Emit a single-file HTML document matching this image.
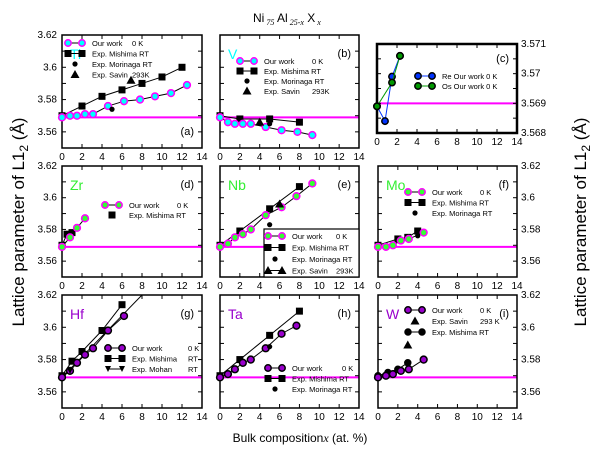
<!DOCTYPE html>
<html><head><meta charset="utf-8"><style>
body{margin:0;background:#fff;}
svg{display:block;font-family:"Liberation Sans",sans-serif;}
</style></head><body>
<svg id="c" width="600" height="454" viewBox="0 0 600 454">
<text x="253" y="22" font-size="12">Ni<tspan font-size="8" dy="3" font-style="italic" font-family="Liberation Serif"> 75</tspan><tspan dy="-3"> Al</tspan><tspan font-size="8" dy="3" font-style="italic" font-family="Liberation Serif"> 25-x</tspan><tspan dy="-3"> X</tspan><tspan font-size="8" dy="3" font-style="italic" font-family="Liberation Serif"> x</tspan></text>
<text transform="translate(24,222) rotate(-90)" text-anchor="middle" font-size="17">Lattice parameter of L1<tspan font-size="12" dy="4">2</tspan><tspan dy="-4"> (Å)</tspan></text>
<text transform="translate(586,222) rotate(-90)" text-anchor="middle" font-size="17">Lattice parameter of L1<tspan font-size="12" dy="4">2</tspan><tspan dy="-4"> (Å)</tspan></text>
<text x="300" y="442" text-anchor="middle" font-size="12">Bulk composition<tspan font-style="italic" font-family="Liberation Serif">x</tspan> (at. %)</text>
</svg>
<script>
// Data arrays
const xTicks=[0,2,4,6,8,10,12,14];
const yTicksMain=[3.56,3.58,3.6,3.62];
const yTicksC=[3.568,3.569,3.57,3.571];
const tiOurX=[0,0.8,1.5,2.3,3.1,4.6,6.2,7.8,9.3,10.9,12.5];
const tiOurY=[3.569,3.570,3.570,3.571,3.571,3.576,3.579,3.580,3.582,3.584,3.589];
const tiMisX=[0,2,4,6,8,10,12];
const tiMisY=[3.570,3.576,3.582,3.586,3.590,3.594,3.600];
const tiMorX=[5];const tiMorY=[3.574];
const tiSavX=[6.9];const tiSavY=[3.592];
const vOurX=[0,0.8,1.5,2.3,3.1,4.6,6.2,7.8,9.3];
const vOurY=[3.569,3.566,3.565,3.565,3.565,3.563,3.561,3.560,3.558];
const vMisX=[0,2,5,8];const vMisY=[3.570,3.568,3.568,3.566];
const vMorX=[5];const vMorY=[3.565];
const vSavX=[4];const vSavY=[3.566];
const reX=[0,0.8,1.5,2.3];const reY=[3.5689,3.5684,3.5699,3.5706];
const osX=[0,1.5,2.3];const osY=[3.5689,3.5697,3.5706];
const zrOurX=[0,0.8,1.5,2.3];const zrOurY=[3.569,3.575,3.581,3.587];
const zrMisX=[0,0.5,1];const zrMisY=[3.570,3.577,3.578];
const nbOurX=[0,0.8,1.5,2.3,3.1,4.6,6.2,7.7,9.3];
const nbOurY=[3.569,3.571,3.575,3.577,3.580,3.589,3.594,3.601,3.609];
const nbMisX=[0,2,5,8];const nbMisY=[3.570,3.579,3.593,3.607];
const nbMorX=[5];const nbMorY=[3.583];
const nbSavX=[6];const nbSavY=[3.596];
const moOurX=[0,0.8,1.5,2.3,3.1,4.6];const moOurY=[3.569,3.569,3.570,3.573,3.574,3.578];
const moMisX=[0,2,3,4];const moMisY=[3.570,3.574,3.575,3.579];
const moMorX=[4];const moMorY=[3.576];
const hfOurX=[0,0.8,1.5,2.3,3.1,4.6,6.2];const hfOurY=[3.569,3.573,3.578,3.583,3.587,3.598,3.607];
const hfFitX=[0,8];const hfFitY=[3.569,3.620];
const hfMisX=[0,1,2,4,6];const hfMisY=[3.570,3.579,3.585,3.598,3.614];
const hfMohX=[0.8];const hfMohY=[3.573];
const taOurX=[0,0.8,1.5,2.3,3.1,4.6,6.2,7.7];const taOurY=[3.569,3.571,3.574,3.578,3.580,3.587,3.596,3.601];
const taMisX=[0,2,5,8];const taMisY=[3.570,3.580,3.595,3.610];
const taMorX=[5];const taMorY=[3.588];
const wOurX=[0,0.8,1.5,2.3,3.1,4.6];const wOurY=[3.569,3.570,3.571,3.573,3.574,3.580];
const wSavX=[3];const wSavY=[3.589];
const wMisX=[0,1,2,3];const wMisY=[3.570,3.572,3.574,3.578];

const svg=document.getElementById('c');
const NS='http://www.w3.org/2000/svg';
function mk(tag,at,parent){const e=document.createElementNS(NS,tag);for(const k in at)e.setAttribute(k,at[k]);(parent||svg).appendChild(e);return e;}
function txt(x,y,s,size,at,parent){const t=mk('text',Object.assign({x:x,y:y,'font-size':size},at||{}),parent);t.textContent=s;return t;}

function marker(g,kind,x,y,fill,stroke,r){
  let e=null;
  if(kind==='circle'){e=mk('circle',{cx:x,cy:y,r:r||3.4,fill:fill,stroke:stroke,'stroke-width':1.5},g);}
  else if(kind==='square'){e=mk('rect',{x:x-3.5,y:y-3.5,width:7,height:7,fill:'#000'},g);}
  else if(kind==='dot'){e=mk('circle',{cx:x,cy:y,r:2.6,fill:'#000'},g);}
  else if(kind==='tri'){e=mk('path',{d:`M${x},${y-4.5}L${x+4.5},${y+3.5}L${x-4.5},${y+3.5}Z`,fill:'#000'},g);}
  else if(kind==='tridown'){e=mk('path',{d:`M${x-3},${y-3}L${x+3},${y-3}L${x},${y+3}Z`,fill:'#000'},g);}
  return e;
}

function panel(p){
  const g=mk('g',{});
  
  
  const X=v=>p.x0+(v/14)*(p.x1-p.x0);
  const Y=v=>p.yb-(v-p.ymin)/(p.ymax-p.ymin)*(p.yb-p.yt);
  const ref=mk('line',{x1:p.x0,x2:p.x1,y1:Y(3.569),y2:Y(3.569),stroke:'#ff00ff','stroke-width':2},g);
  
  
  const fr=mk('rect',{x:p.x0,y:p.yt,width:p.x1-p.x0,height:p.yb-p.yt,fill:'none',stroke:'#000','stroke-width':p.fw||1.5},g);
  
  
  xTicks.forEach(t=>{
    mk('line',{x1:X(t),x2:X(t),y1:p.yt,y2:p.yt+4,stroke:'#000'},g);
    mk('line',{x1:X(t),x2:X(t),y1:p.yb,y2:p.yb-4,stroke:'#000'},g);
    const l=txt(X(t),p.yb+12,String(t),10,{'text-anchor':'middle'},g);
    
    
  });
  const yt=p.yticks;
  const half=(yt[1]-yt[0])/2;
  for(let v=p.ymin;v<=p.ymax+1e-9;v+=half){
    mk('line',{x1:p.x0,x2:p.x0+4,y1:Y(v),y2:Y(v),stroke:'#000'},g);
    mk('line',{x1:p.x1,x2:p.x1-4,y1:Y(v),y2:Y(v),stroke:'#000'},g);
  }
  if(p.ylab){
    yt.forEach(v=>{
      const l=p.ylab==='left'?txt(p.x0-5,Y(v)+3,String(v),10,{'text-anchor':'end'},g):txt(p.x1+4,Y(v)+3,String(v),10,{},g);
      
      
    });
  }
  const cid='clip-'+p.name;
  const cp=mk('clipPath',{id:cid},g);mk('rect',{x:p.x0-5,y:p.yt,width:p.x1-p.x0+5,height:p.yb-p.yt},cp);
  const dg=mk('g',{'clip-path':`url(#${cid})`},g);
  p.series.forEach(s=>{
    if(s.line){
      const pl=mk('polyline',{points:s.xs.map((x,i)=>X(x)+','+Y(s.ys[i])).join(' '),fill:'none',stroke:s.lc||'#000','stroke-width':1},dg);
      
      
    }
    s.xs.forEach((x,i)=>{
      const m=marker(dg,s.kind,X(x),Y(s.ys[i]),s.fill,s.stroke,s.r);
      if(m){
        
        
      }
    });
  });
  if(p.elem){const e=txt(p.x0+8,p.yt+24,p.elem,14,{fill:p.elemColor},g);}
  const tg=txt(p.x1-8,p.tagY||(p.yt+22),p.tag,11,{'text-anchor':'end'},g);
  
  
  if(p.legend){
    const lg=mk('g',{},g);
    
    
    if(p.legend.box) mk('rect',Object.assign({fill:'#fff',stroke:'#000','stroke-width':1.2},p.legend.box),lg);
    p.legend.items.forEach((it,i)=>{
      const y=p.legend.y+i*p.legend.dy;const x=p.legend.x;
      const eg=mk('g',{},lg);
      
      
      if(it.line) mk('line',{x1:x,x2:x+14,y1:y,y2:y,stroke:it.lc||'#000'},eg);
      if(it.line){marker(eg,it.kind,x,y,it.fill,it.stroke,it.r);marker(eg,it.kind,x+14,y,it.fill,it.stroke,it.r);}
      else marker(eg,it.kind,x+7,y,it.fill,it.stroke,it.r);
      txt(x+24,y+3,it.label,7.5,{},eg);
      txt(x+24+p.legend.tx,y+3,it.temp,7.5,{},eg);
    });
  }
}
const OUR=(id,xs,ys,fill,stroke)=>({id:id,xs:xs,ys:ys,kind:'circle',fill:fill,stroke:stroke,line:true});
const MIS=(id,xs,ys)=>({id:id,xs:xs,ys:ys,kind:'square',line:true});
const PT=(id,xs,ys,k,line)=>({id:id,xs:xs,ys:ys,kind:k,line:!!line});
const rowTop={yt:35,yb:148},rowMid={yt:166,yb:277},rowBot={yt:295,yb:408};
const main={ymin:3.55,ymax:3.62,yticks:yTicksMain};
const L=(kind,fill,stroke,line,label,temp)=>({kind,fill,stroke,line,label,temp,r:3.2});
const c1='#00ffff',mg='#ff00ff',gr='#33ff33',pu='#9900cc';

panel(Object.assign({name:'a-ti',x0:62,x1:202,ylab:'left',elem:'Ti',elemColor:'#00ffff',tag:'(a)',tagY:135,
 series:[MIS('ti-mishima',tiMisX,tiMisY),OUR('ti-our-work',tiOurX,tiOurY,c1,mg),PT('ti-morinaga',tiMorX,tiMorY,'dot'),PT('ti-savin',tiSavX,tiSavY,'tri')],
 legend:{x:68,y:43,dy:10.5,tx:40,items:[L('circle',c1,mg,true,'Our work','0    K'),L('square',0,0,true,'Exp. Mishima  RT',''),L('dot',0,0,false,'Exp. Morinaga  RT',''),L('tri',0,0,false,'Exp. Savin','     293K')]}},rowTop,main));
panel(Object.assign({name:'b-v',x0:220,x1:359,elem:'V',elemColor:'#00ffff',tag:'(b)',
 series:[MIS('v-mishima',vMisX,vMisY),OUR('v-our-work',vOurX,vOurY,c1,mg),PT('v-morinaga',vMorX,vMorY,'dot'),PT('v-savin',vSavX,vSavY,'tri')],
 legend:{x:240,y:61,dy:10,tx:48,items:[L('circle',c1,mg,true,'Our work','0 K'),L('square',0,0,true,'Exp. Mishima  RT',''),L('dot',0,0,false,'Exp. Morinaga  RT',''),L('tri',0,0,false,'Exp. Savin','        293K')]}},rowTop,main));
panel({name:'c-re-os',x0:377,x1:517,yt:44,yb:133,ymin:3.568,ymax:3.571,yticks:yTicksC,ylab:'right',tag:'(c)',tagY:62,fw:2.5,
 series:[{id:'re-our-work',xs:reX,ys:reY,kind:'circle',fill:'#0033ff',stroke:'#000',line:true,lc:'#0033ff',r:3.2},{id:'os-our-work',xs:osX,ys:osY,kind:'circle',fill:'#009900',stroke:'#000',line:true,lc:'#009900',r:3.2}],
 legend:{x:418,y:76,dy:10,tx:-100,items:[{kind:'circle',fill:'#0033ff',stroke:'#000',line:true,lc:'#0033ff',r:3.2,label:'Re  Our work   0 K',temp:''},{kind:'circle',fill:'#009900',stroke:'#000',line:true,lc:'#009900',r:3.2,label:'Os  Our work   0 K',temp:''}]}});
panel(Object.assign({name:'d-zr',x0:62,x1:202,ylab:'left',elem:'Zr',elemColor:'#33ee33',tag:'(d)',
 series:[MIS('zr-mishima',zrMisX,zrMisY),OUR('zr-our-work',zrOurX,zrOurY,gr,mg)],
 legend:{x:105,y:205,dy:10,tx:48,items:[L('circle',gr,mg,true,'Our work','0 K'),L('square',0,0,false,'Exp. Mishima  RT','')]}},rowMid,main));
panel(Object.assign({name:'e-nb',x0:220,x1:359,elem:'Nb',elemColor:'#33ee33',tag:'(e)',
 series:[MIS('nb-mishima',nbMisX,nbMisY),OUR('nb-our-work',nbOurX,nbOurY,gr,mg),PT('nb-morinaga',nbMorX,nbMorY,'dot'),PT('nb-savin',nbSavX,nbSavY,'tri')],
 legend:{box:{x:264,y:229,width:95,height:48},x:268,y:236,dy:11.5,tx:44,items:[L('circle',gr,mg,true,'Our work','0 K'),L('square',0,0,true,'Exp. Mishima  RT',''),L('dot',0,0,false,'Exp. Morinaga  RT',''),L('tri',0,0,true,'Exp. Savin','     293K')]}},rowMid,main));
panel(Object.assign({name:'f-mo',x0:378,x1:517,ylab:'right',elem:'Mo',elemColor:'#33ee33',tag:'(f)',
 series:[MIS('mo-mishima',moMisX,moMisY),OUR('mo-our-work',moOurX,moOurY,gr,mg),PT('mo-morinaga',moMorX,moMorY,'dot')],
 legend:{x:408,y:192,dy:10.5,tx:48,items:[L('circle',gr,mg,true,'Our work','0 K'),L('square',0,0,true,'Exp. Mishima   RT',''),L('dot',0,0,false,'Exp. Morinaga  RT','')]}},rowMid,main));
panel(Object.assign({name:'g-hf',x0:62,x1:202,ylab:'left',elem:'Hf',elemColor:'#9900cc',tag:'(g)',
 series:[{id:'hf-fit',xs:hfFitX,ys:hfFitY,kind:'none',line:true},MIS('hf-mishima',hfMisX,hfMisY),OUR('hf-our-work',hfOurX,hfOurY,pu,'#000'),PT('hf-mohan',hfMohX,hfMohY,'tridown')],
 legend:{x:108,y:348,dy:10.5,tx:56,items:[L('circle',pu,'#000',true,'Our work','0 K'),L('square',0,0,true,'Exp. Mishima','RT'),L('tridown',0,0,true,'Exp. Mohan','RT')]}},rowBot,main));
panel(Object.assign({name:'h-ta',x0:220,x1:359,elem:'Ta',elemColor:'#9900cc',tag:'(h)',
 series:[MIS('ta-mishima',taMisX,taMisY),OUR('ta-our-work',taOurX,taOurY,pu,'#000'),PT('ta-morinaga',taMorX,taMorY,'dot')],
 legend:{x:268,y:368,dy:10.5,tx:50,items:[L('circle',pu,'#000',true,'Our work','0 K'),L('square',0,0,true,'Exp. Mishima  RT',''),L('dot',0,0,false,'Exp. Morinaga RT','')]}},rowBot,main));
panel(Object.assign({name:'i-w',x0:378,x1:517,ylab:'right',elem:'W',elemColor:'#9900cc',tag:'(i)',
 series:[{id:'w-mishima',xs:wMisX,ys:wMisY,kind:'circle',fill:'#000',stroke:'#000',line:true,r:3},OUR('w-our-work',wOurX,wOurY,pu,'#000'),PT('w-savin',wSavX,wSavY,'tri')],
 legend:{x:408,y:310,dy:11,tx:48,items:[L('circle',pu,'#000',true,'Our work','0 K'),L('tri',0,0,false,'Exp. Savin','293 K'),{kind:'circle',fill:'#000',stroke:'#000',line:true,r:3,label:'Exp. Mishima  RT',temp:''}]}},rowBot,main));
</script>
</body></html>
